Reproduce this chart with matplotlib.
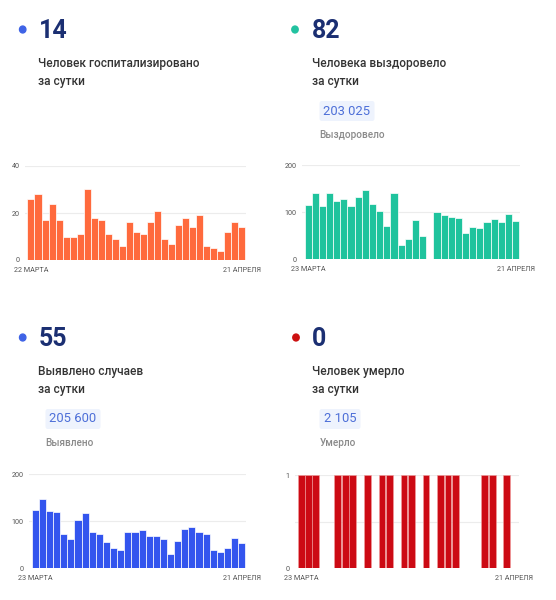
import matplotlib
matplotlib.use("Agg")
from matplotlib import pyplot as plt
from matplotlib.patches import FancyBboxPatch
import numpy as np

plt.rcParams['font.family'] = ['Roboto', 'DejaVu Sans']

# Data
hosp = [26, 28, 17, 24, 17, 10, 10, 11, 30, 18, 17, 11, 9, 6, 16, 12,
        11, 16, 21, 9, 7, 15, 18, 14, 19, 6, 5, 4, 12, 16, 14]
recovered = [115, 140, 113, 140, 123, 127, 112, 133, 147, 117, 103, 71,
             140, 31, 44, 84, 49, 1, 101, 93, 90, 88, 55, 68, 66, 80, 85,
             80, 96, 81]
cases = [123, 148, 121, 120, 74, 62, 102, 117, 78, 74, 55, 43, 39, 78, 77,
         82, 68, 69, 63, 31, 59, 84, 87, 77, 72, 40, 34, 43, 65, 54]
deaths = [1, 1, 1, 0, 0, 1, 1, 1, 0, 1, 0, 1, 1, 0, 1, 1, 0, 1, 0, 1, 1,
          1, 0, 0, 0, 1, 1, 0, 1, 0]

big_numbers = ["14", "82", "55", "0"]
line1 = ["Человек госпитализировано", "Человека выздоровело",
         "Выявлено случаев", "Человек умерло"]
line2 = "за сутки"
totals = [None, "203 025", "205 600", "2 105"]
total_labels = [None, "Выздоровело", "Выявлено", "Умерло"]
first_dates = ["22 МАРТА", "23 МАРТА", "23 МАРТА", "23 МАРТА"]
last_date = "21 АПРЕЛЯ"
dot_colors = ["#3f63e6", "#22c2a0", "#3f63e6", "#cc1010"]
bar_colors = ["#ff6a3d", "#1fc39d", "#3355ee", "#cc0a14"]

W, H = 556, 600
fig = plt.figure(figsize=(W / 100, H / 100), dpi=100)
fig.patch.set_facecolor("white")


def fx(x):
    return x / W


def fy(y):
    return 1 - y / H


# header blocks: (dot x, number x, text x, top y offset, box x, box w)
headers = [
    (22.7, 39, 38.5, 0, None, None),
    (295, 312, 312.5, 0, 319.5, 55),
    (22.7, 39, 38.5, 308, 45.5, 55),
    (296, 312, 312.5, 308, 319.5, 41),
]

for i, (dx, nx, tx, oy, bx, bw) in enumerate(headers):
    fig.patches.append(plt.Circle((fx(dx), fy(29.5 + oy)), 3.2 / W,
                                  transform=fig.transFigure,
                                  color=dot_colors[i], zorder=3))
    fig.text(fx(nx), fy(30.5 + oy), big_numbers[i], fontsize=18,
             fontweight="bold", color="#1b2f72", va="center", ha="left")
    fig.text(fx(tx), fy(63 + oy), line1[i], fontsize=8.6,
             fontweight="medium", color="#333333", va="center", ha="left")
    fig.text(fx(tx), fy(81 + oy), line2, fontsize=8.6,
             fontweight="medium", color="#333333", va="center", ha="left")
    if totals[i] is not None:
        box = FancyBboxPatch((fx(bx), fy(121 + oy)), bw / W, 20 / H,
                             boxstyle="round,pad=0,rounding_size=0.004",
                             transform=fig.transFigure, fc="#eef3fd",
                             ec="none")
        fig.patches.append(box)
        fig.text(fx(bx + bw / 2), fy(111 + oy), totals[i], fontsize=9.4,
                 color="#4d6fd8", va="center", ha="center")
        fig.text(fx(bx), fy(135 + oy), total_labels[i], fontsize=7.2,
                 fontweight="medium", color="#8a8a8a", va="center",
                 ha="left")

# chart axes: (left, right, top, bottom) in px, ymax, ticks, grid
charts = [
    (hosp, 25, 246, 166, 260, 40, [0, 20, 40], [20, 40]),
    (recovered, 302, 520, 165, 259.3, 200, [0, 100, 200], [100, 200]),
    (cases, 29.3, 246, 474.3, 568.3, 200, [0, 100, 200], [100, 200]),
    (deaths, 295, 518.5, 475, 568.3, 1, [0, 1], [0.5, 1]),
]

for i, (vals, l, r, t, b, ymax, ticks, grid) in enumerate(charts):
    ax = fig.add_axes([fx(l), fy(b), (r - l) / W, (b - t) / H])
    n = len(vals)
    x = np.arange(n)
    if i == 3:
        ax.bar(x, vals, width=0.94, color=bar_colors[i],
               edgecolor="#f2a0a0", linewidth=0.4, zorder=2)
    else:
        ax.bar(x, vals, width=1.0, color=bar_colors[i],
               edgecolor="white", linewidth=0.5, zorder=2)
    ax.set_xlim(-0.85, n - 0.4)
    ax.set_ylim(0, ymax)
    for g in grid:
        ax.axhline(g, color="#ececec", lw=0.8, zorder=1)
    ax.set_yticks(ticks)
    ax.set_yticklabels([str(v) for v in ticks])
    ax.set_xticks([0, n - 1])
    ax.set_xticklabels([first_dates[i], last_date])
    ax.tick_params(length=0, labelsize=5.2, colors="#555555", pad=4)
    ax.tick_params(axis="x", pad=5)
    for s in ax.spines.values():
        s.set_visible(False)
    ax.set_facecolor("none")

fig.savefig("out.png", dpi=100, facecolor="white")
